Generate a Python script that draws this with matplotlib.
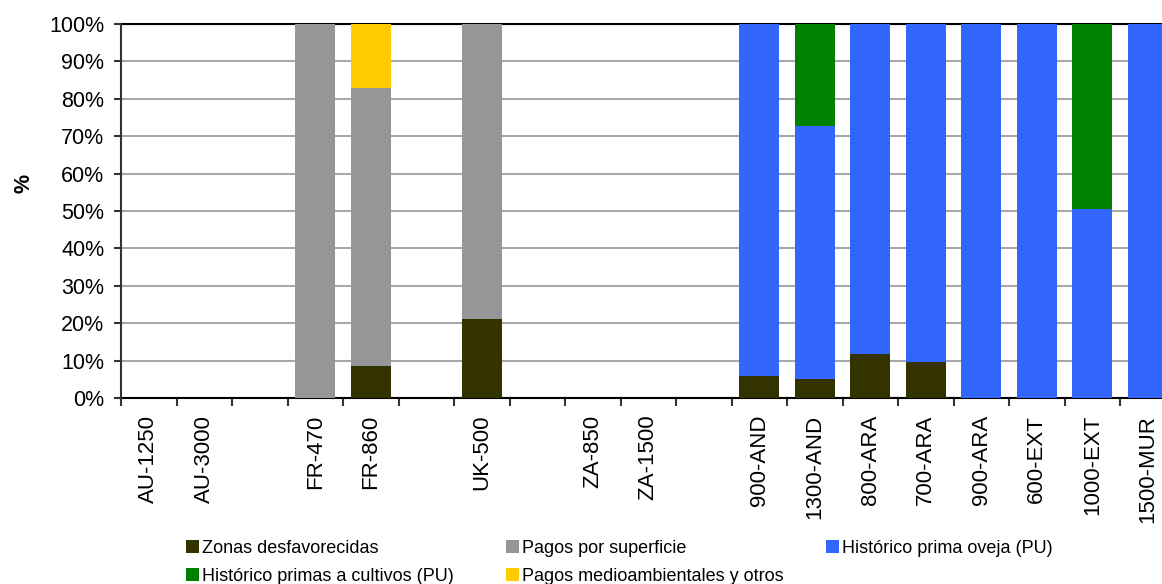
import matplotlib
matplotlib.use("Agg")
import matplotlib.pyplot as plt
import numpy as np
from matplotlib.patches import Patch
from matplotlib.ticker import PercentFormatter, FixedLocator

plt.rcParams['font.family'] = ['Liberation Sans', 'DejaVu Sans']

categories = ['AU-1250', 'AU-3000', '', 'FR-470', 'FR-860', '', 'UK-500', '',
              'ZA-850', 'ZA-1500', '', '900-AND', '1300-AND', '800-ARA', '700-ARA',
              '900-ARA', '600-EXT', '1000-EXT', '1500-MUR']

zonas_desfavorecidas = [0, 0, 0, 0, 8.5, 0, 21.0, 0, 0, 0, 0, 5.9, 5.0, 11.8, 9.6, 0, 0, 0, 0]
pagos_superficie     = [0, 0, 0, 100, 74.5, 0, 79.0, 0, 0, 0, 0, 0, 0, 0, 0, 0, 0, 0, 0]
prima_oveja          = [0, 0, 0, 0, 0, 0, 0, 0, 0, 0, 0, 94.1, 67.8, 88.2, 90.4, 100, 100, 50.5, 100]
primas_cultivos      = [0, 0, 0, 0, 0, 0, 0, 0, 0, 0, 0, 0, 27.2, 0, 0, 0, 0, 49.5, 0]
pagos_medioamb       = [0, 0, 0, 0, 17.0, 0, 0, 0, 0, 0, 0, 0, 0, 0, 0, 0, 0, 0, 0]

series = [
    ('Zonas desfavorecidas', zonas_desfavorecidas, '#333300'),
    ('Pagos por superficie', pagos_superficie, '#969696'),
    ('Histórico prima oveja (PU)', prima_oveja, '#3366FF'),
    ('Histórico primas a cultivos (PU)', primas_cultivos, '#008000'),
    ('Pagos medioambientales y otros', pagos_medioamb, '#FFCC00'),
]

W, H = 1162, 584
fig = plt.figure(figsize=(W / 100, H / 100), dpi=100)
ax = fig.add_axes([121 / W, (H - 398) / H, 1054.5 / W, 374 / H])

x = np.arange(len(categories))
bottom = np.zeros(len(categories))
for name, vals, col in series:
    v = np.array(vals, dtype=float)
    ax.bar(x, v, width=0.72, bottom=bottom, color=col, label=name, zorder=3)
    bottom += v

ax.set_xlim(-0.5, len(categories) - 0.5)
ax.set_ylim(0, 100)
ax.yaxis.set_major_locator(FixedLocator(np.arange(0, 101, 10)))
ax.yaxis.set_major_formatter(PercentFormatter(decimals=0))
ax.grid(axis='y', color='#a8a8a8', linewidth=1.5, zorder=0)

ax.set_xticks(x)
ax.set_xticklabels(categories, rotation=90, fontsize=16)
ax.tick_params(axis='x', which='major', length=0, pad=12)
ax.set_xticks(np.arange(-0.5, len(categories), 1), minor=True)
ax.tick_params(axis='x', which='minor', length=6, width=1.5, color='#333333', direction='out')
ax.tick_params(axis='y', labelsize=15.5, length=5, width=1.5, color='#333333', pad=7)

ax.spines['right'].set_visible(False)
for s in ['top', 'bottom']:
    ax.spines[s].set_color('black')
    ax.spines[s].set_linewidth(1.5)
    ax.spines[s].set_zorder(2)
ax.spines['left'].set_color('#333333')
ax.spines['left'].set_linewidth(1.5)

ax.set_ylabel('%', fontsize=15.5, fontweight='bold')
ax.yaxis.set_label_coords((34 - 121) / 1054.5, (398 - 183) / 374)

handles = [Patch(facecolor=c, edgecolor='none') for _, _, c in series]
labels = [n for n, _, _ in series]
cols = [[0, 3], [1, 4], [2]]
xs = [186, 506, 826]
for ci, idx in enumerate(cols):
    fig.legend([handles[i] for i in idx], [labels[i] for i in idx],
               loc='upper left', bbox_to_anchor=(xs[ci] / W, (H - 540) / H),
               frameon=False, fontsize=13, handlelength=0.72, handleheight=0.72,
               handletextpad=0.17, labelspacing=0.6, borderpad=0, borderaxespad=0)

fig.savefig('out.png', dpi=100)
